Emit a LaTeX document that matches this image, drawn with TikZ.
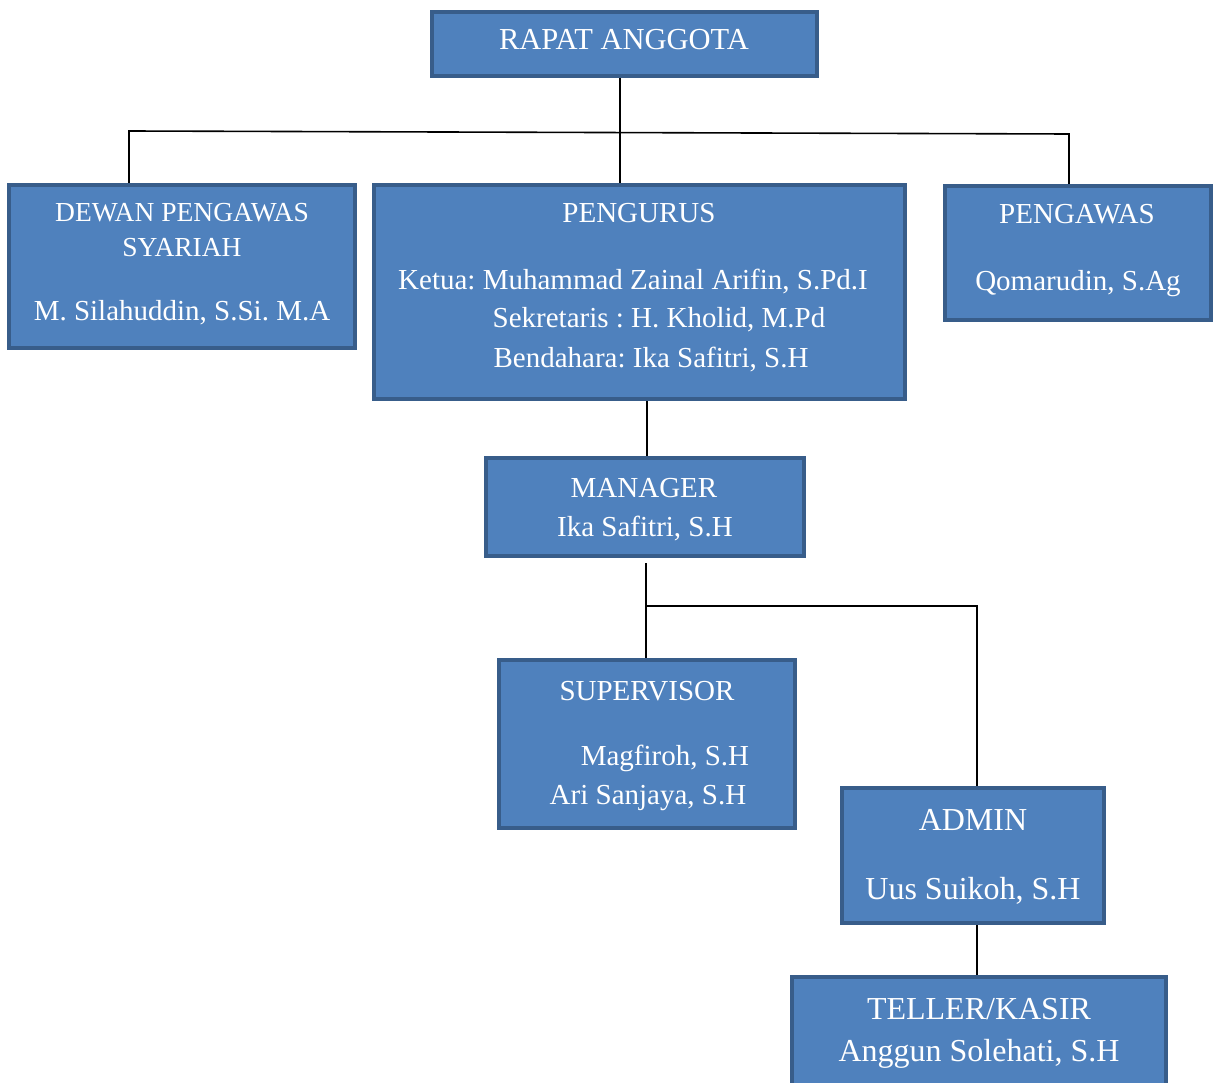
\documentclass[tikz,border=0pt]{standalone}
\usepackage{fontspec}
\setmainfont{Liberation Serif}
\frenchspacing
\definecolor{boxfill}{HTML}{4F81BD}
\definecolor{boxline}{HTML}{385D8A}
\tikzset{
  orgbox/.style={draw=boxline, fill=boxfill, line width=4pt},
  lbl/.style={anchor=base, text=white, inner sep=0pt, font=\fontsize{29}{35}\selectfont},
  slbl/.style={anchor=base, text=white, inner sep=0pt, font=\fontsize{27.5}{32}\selectfont},
  blbl/.style={anchor=base, text=white, inner sep=0pt, font=\fontsize{32}{38}\selectfont},
  conn/.style={draw=black, line width=1.6pt}
}
\begin{document}
\begin{tikzpicture}[x=1pt,y=-1pt]
\useasboundingbox (0,0) rectangle (1216,1083);
% boxes
\path[orgbox] (432,12) rectangle (817,76);
\path[orgbox] (9,185) rectangle (355,348);
\path[orgbox] (374,185) rectangle (905,399);
\path[orgbox] (945,186) rectangle (1211,320);
\path[orgbox] (486,458) rectangle (804,556);
\path[orgbox] (499,660) rectangle (795,828);
\path[orgbox] (842,788) rectangle (1104,923);
\path[orgbox] (792,977) rectangle (1166,1095);
% named anchor coordinates
\coordinate (rapatB) at (620,78);
\coordinate (dewanT) at (129,183);
\coordinate (pengurusT) at (620,183);
\coordinate (pengawasT) at (1069,184);
\coordinate (pengurusB) at (647,401);
\coordinate (managerT) at (647,456);
\coordinate (managerB) at (646,563);
\coordinate (supT) at (646,658);
\coordinate (adminT) at (977,786);
\coordinate (adminB) at (977,925);
\coordinate (tellerT) at (977,975);
\coordinate (hL) at (129,131);
\coordinate (hR) at (1069,134);
\coordinate (j1) at (646,606);
\coordinate (j2) at (977,606);
% connectors
\draw[conn] (rapatB) -- (pengurusT);
\draw[conn] (dewanT) -- (hL) -- (hR) -- (pengawasT);
\draw[conn] (pengurusB) -- (managerT);
\draw[conn] (managerB) -- (supT);
\draw[conn] (j1) -- (j2) -- (adminT);
\draw[conn] (adminB) -- (tellerT);
% texts
\node[lbl, font=\fontsize{30.5}{36}\selectfont] (t1) at (624,50) {RAPAT ANGGOTA};
\node[slbl] (t2) at (182,222) {DEWAN PENGAWAS};
\node[slbl] (t3) at (182,257) {SYARIAH};
\node[lbl] (t4) at (182,321) {M. Silahuddin, S.Si. M.A};
\node[lbl] (t5) at (639,223) {PENGURUS};
\node[lbl] (t6) at (633,290) {Ketua: Muhammad Zainal Arifin, S.Pd.I};
\node[lbl] (t7) at (659,328) {Sekretaris : H. Kholid, M.Pd};
\node[lbl] (t8) at (651,367) {Bendahara: Ika Safitri, S.H};
\node[lbl] (t9) at (1077,224) {PENGAWAS};
\node[lbl] (t10) at (1078,291) {Qomarudin, S.Ag};
\node[lbl] (t11) at (644,497) {MANAGER};
\node[lbl] (t12) at (645,536) {Ika Safitri, S.H};
\node[lbl] (t13) at (647,700) {SUPERVISOR};
\node[lbl] (t14) at (665,765) {Magfiroh, S.H};
\node[lbl] (t15) at (648,804) {Ari Sanjaya, S.H};
\node[blbl] (t16) at (973,830) {ADMIN};
\node[blbl] (t17) at (973,899) {Uus Suikoh, S.H};
\node[blbl] (t18) at (979,1019) {TELLER/KASIR};
\node[blbl] (t19) at (979,1061) {Anggun Solehati, S.H};
\end{tikzpicture}
\end{document}
